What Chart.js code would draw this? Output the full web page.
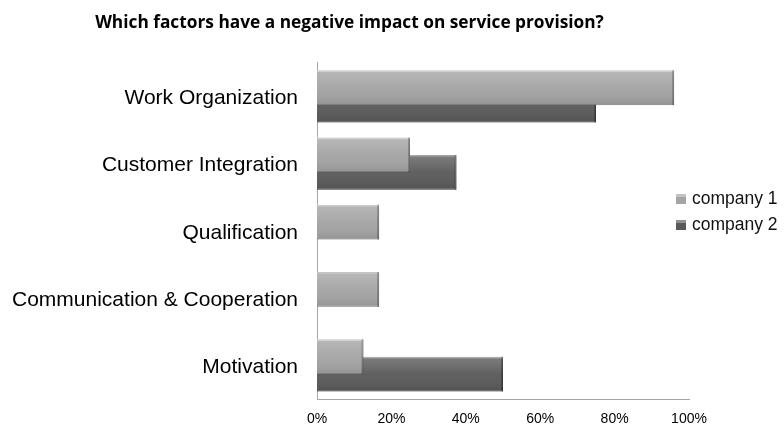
<!DOCTYPE html>
<html>
<head>
<meta charset="utf-8">
<script src="https://cdn.jsdelivr.net/npm/chart.js@4.4.1/dist/chart.umd.min.js"></script>
<style>
html, body { margin: 0; padding: 0; background: #fff; }
</style>
</head>
<body>
<canvas id="factorsChart" width="784" height="424"></canvas>
<script>
// Chart data
const categories = ['Work Organization', 'Customer Integration', 'Qualification', 'Communication & Cooperation', 'Motivation'];
const seriesNames = ['company 1', 'company 2'];
const company1 = [96, 25, 16.7, 16.7, 12.5];
const company2 = [75, 37.5, 0, 0, 50];
const tickValues = [0, 20, 40, 60, 80, 100];

const labelFont = '"Liberation Sans", Arial, sans-serif';

// Light top edge and dark right edge, like the 3D bars of the original
const bevelPlugin = {
    id: 'bevel',
    afterDatasetDraw(chart, args) {
        const ctx = chart.ctx;
        args.meta.data.forEach(bar => {
            const p = bar.getProps(['x', 'y', 'base', 'height'], true);
            const left = Math.min(p.base, p.x);
            const right = Math.max(p.base, p.x);
            if (right - left < 1) return;
            const top = p.y - p.height / 2;
            const h = p.height;
            const g = ctx.createLinearGradient(0, top, 0, top + h);
            g.addColorStop(0, 'rgba(255,255,255,0.6)');
            g.addColorStop(0.07, 'rgba(255,255,255,0.2)');
            g.addColorStop(0.5, 'rgba(255,255,255,0.04)');
            g.addColorStop(1, 'rgba(0,0,0,0.1)');
            ctx.save();
            ctx.fillStyle = g;
            ctx.fillRect(left, top, right - left, h);
            ctx.fillStyle = 'rgba(0,0,0,0.22)';
            ctx.fillRect(right - 2, top, 2, h);
            ctx.restore();
        });
    }
};

// Legend sits to the right, partly over the plot width
const sideLegend = {
    id: 'sideLegend',
    afterDraw(chart) {
        const ctx = chart.ctx;
        ctx.save();
        ctx.font = '17.5px ' + labelFont;
        ctx.textBaseline = 'middle';
        chart.data.datasets.forEach((ds, i) => {
            const y = 199 + i * 26;
            ctx.fillStyle = ds.backgroundColor;
            ctx.fillRect(676, y - 5, 10, 10);
            ctx.fillStyle = 'rgba(255,255,255,0.35)';
            ctx.fillRect(676, y - 5, 10, 3);
            ctx.fillStyle = '#111';
            ctx.fillText(ds.label, 692, y);
        });
        ctx.restore();
    }
};

new Chart(document.getElementById('factorsChart'), {
    type: 'bar',
    data: {
        labels: categories,
        datasets: [{
            label: seriesNames[0],
            data: company1,
            backgroundColor: '#a4a4a4',
            borderColor: '#8a8a8a',
            borderWidth: 1
        }, {
            label: seriesNames[1],
            data: company2,
            backgroundColor: '#5a5a5a',
            borderColor: '#444444',
            borderWidth: 1
        }]
    },
    options: {
        responsive: false,
        animation: false,
        indexAxis: 'y',
        categoryPercentage: 0.52,
        barPercentage: 2.0,
        layout: {
            padding: { left: 10, right: 95, top: 0, bottom: -4 }
        },
        plugins: {
            legend: { display: false },
            tooltip: { enabled: false },
            title: {
                display: true,
                text: 'Which factors have a negative impact on service provision?',
                color: '#000',
                font: { family: 'Open Sans', weight: 'bold', size: 17.3 },
                padding: { top: 13, bottom: 29 }
            }
        },
        scales: {
            x: {
                min: 0,
                max: 100,
                afterBuildTicks: scale => {
                    scale.ticks = tickValues.map(v => ({ value: v }));
                },
                afterFit: scale => { scale.height = 29; },
                ticks: {
                    callback: v => v + '%',
                    color: '#000',
                    font: { family: labelFont, size: 14 },
                    padding: 12
                },
                grid: { display: false, drawTicks: false },
                border: { color: '#a6a6a6' }
            },
            y: {
                afterFit: scale => { scale.width = 307; },
                ticks: {
                    color: '#000',
                    font: { family: labelFont, size: 21 },
                    padding: 0,
                    labelOffset: 2
                },
                // tick marks are hidden, their length only keeps the gap to the labels
                grid: { display: false, drawTicks: true, tickLength: 19 },
                border: { color: '#a6a6a6' }
            }
        }
    },
    plugins: [bevelPlugin, sideLegend]
});
</script>
</body>
</html>
